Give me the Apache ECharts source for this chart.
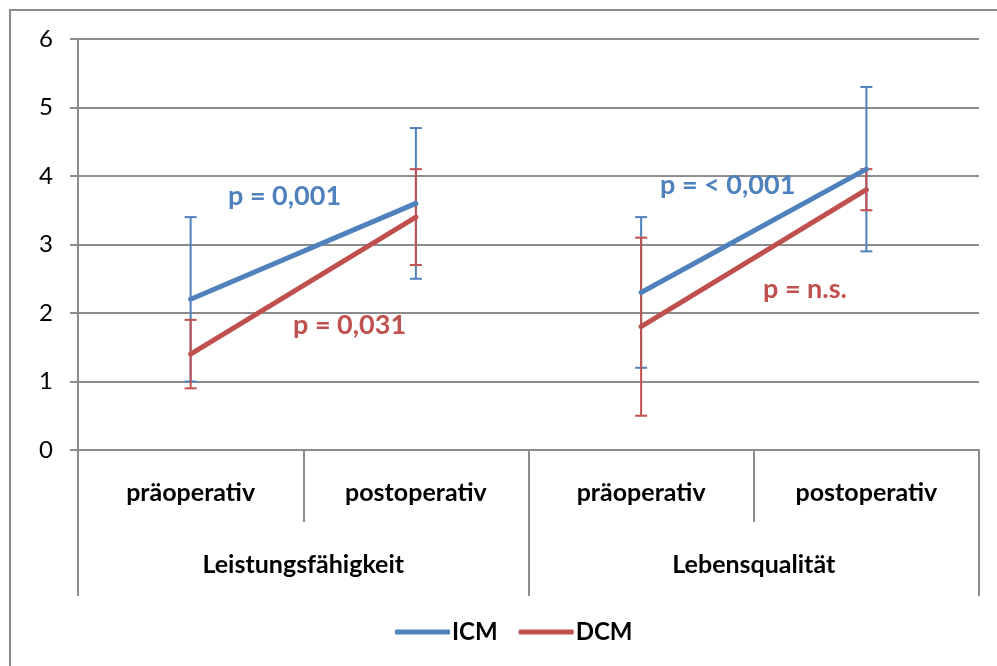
<!DOCTYPE html>
<html>
<head>
<meta charset="utf-8">
<script src="https://cdn.jsdelivr.net/npm/echarts@6/dist/echarts.min.js"></script>
<style>
  html, body { margin: 0; padding: 0; background: #fff; }
  #chart { width: 997px; height: 666px; }
</style>
</head>
<body>
<div id="chart"></div>
<script>
// Phase labels (inner row) and domain labels (outer row)
const phases = ['präoperativ', 'postoperativ', 'präoperativ', 'postoperativ'];
const domains = ['Leistungsfähigkeit', 'Lebensqualität'];

// Mean scores per phase
const icmMean = [2.2, 3.6, 2.3, 4.1];
const dcmMean = [1.4, 3.4, 1.8, 3.8];

// Standard deviations (error bars, symmetric)
const icmSd = [1.2, 1.1, 1.1, 1.2];
const dcmSd = [0.5, 0.7, 1.3, 0.3];

// Significance notes
const pNotes = [
  { text: 'p = 0,001', series: 'ICM', x: 228, y: 199 },
  { text: 'p = 0,031', series: 'DCM', x: 293, y: 328 },
  { text: 'p = < 0,001', series: 'ICM', x: 660, y: 188 },
  { text: 'p = n.s.', series: 'DCM', x: 763, y: 292 }
];

const yTicks = [0, 1, 2, 3, 4, 5, 6];

const BLUE = '#4F81BD';
const RED = '#C0504D';
const GRID = '#8c8c8c';
const FONT = 'Lato, "Open Sans", sans-serif';

// Each domain is its own line segment, so split the means per domain
function segment(values, domainIdx) {
  return values.map((v, i) => (Math.floor(i / 2) === domainIdx ? v : '-'));
}

function errorData(mean, sd) {
  return mean.map((m, i) => [i, m - sd[i], m + sd[i]]);
}

function errorSeries(name, color, mean, sd) {
  return {
    type: 'custom',
    name: name + ' SD',
    xAxisIndex: 0,
    yAxisIndex: 0,
    silent: true,
    itemStyle: { color: color },
    data: errorData(mean, sd),
    renderItem: function (params, api) {
      const x = api.value(0);
      const lo = api.coord([x, api.value(1)]);
      const hi = api.coord([x, api.value(2)]);
      const half = 6;
      const style = { stroke: color, lineWidth: 2 };
      return {
        type: 'group',
        children: [
          { type: 'line', shape: { x1: lo[0], y1: lo[1], x2: hi[0], y2: hi[1] }, style: style },
          { type: 'line', shape: { x1: lo[0] - half, y1: lo[1], x2: lo[0] + half, y2: lo[1] }, style: style },
          { type: 'line', shape: { x1: hi[0] - half, y1: hi[1], x2: hi[0] + half, y2: hi[1] }, style: style }
        ]
      };
    },
    z: 2
  };
}

function lineSeries(name, color, data) {
  return {
    type: 'line',
    name: name,
    data: data,
    symbol: 'none',
    connectNulls: false,
    lineStyle: { color: color, width: 5, cap: 'round' },
    itemStyle: { color: color },
    z: 3
  };
}

const chart = echarts.init(document.getElementById('chart'));

chart.setOption({
  animation: false,
  textStyle: { fontFamily: FONT },
  grid: { left: 78, right: 18, top: 39, bottom: 216, containLabel: false },
  legend: {
    data: ['ICM', 'DCM'],
    bottom: 17,
    left: 390,
    itemWidth: 55,
    itemHeight: 5,
    itemGap: 21,
    icon: 'roundRect',
    textStyle: { fontFamily: FONT, fontSize: 24, fontWeight: 'bold', color: '#000', padding: [0, 0, 0, -3] },
    selectedMode: false
  },
  xAxis: [
    {
      type: 'category',
      data: phases,
      boundaryGap: true,
      position: 'bottom',
      axisLine: { show: true, lineStyle: { color: GRID, width: 2 } },
      axisTick: { show: true, alignWithLabel: false, length: 72, lineStyle: { color: GRID, width: 2 } },
      axisLabel: { margin: 30, fontSize: 25, fontWeight: 'bold', color: '#000', fontFamily: FONT },
      splitLine: { show: false }
    },
    {
      type: 'category',
      data: domains,
      boundaryGap: true,
      position: 'bottom',
      axisLine: { show: false },
      axisTick: { show: true, length: 146, lineStyle: { color: GRID, width: 2 } },
      axisLabel: { margin: 102, fontSize: 25, fontWeight: 'bold', color: '#000', fontFamily: FONT },
      splitLine: { show: false }
    }
  ],
  yAxis: {
    type: 'value',
    min: yTicks[0],
    max: yTicks[yTicks.length - 1],
    interval: 1,
    axisLine: { show: true, lineStyle: { color: GRID, width: 2 } },
    axisTick: { show: true, inside: false, length: 8, lineStyle: { color: GRID, width: 2 } },
    axisLabel: { margin: 25, fontSize: 24, color: '#000', fontFamily: FONT },
    splitLine: { show: true, lineStyle: { color: GRID, width: 2 } }
  },
  graphic: [
    {
      type: 'rect',
      shape: { x: 10, y: 10, width: 1010, height: 700 },
      style: { fill: 'none', stroke: '#8a8a8a', lineWidth: 2 },
      silent: true,
      z: -10
    }
  ].concat(pNotes.map(n => ({
    type: 'text',
    left: n.x,
    top: n.y - 16,
    style: {
      text: n.text,
      fill: n.series === 'ICM' ? BLUE : RED,
      font: 'bold 27px ' + FONT
    },
    z: 100
  }))),
  series: [
    errorSeries('ICM', BLUE, icmMean, icmSd),
    errorSeries('DCM', RED, dcmMean, dcmSd),
    lineSeries('ICM', BLUE, segment(icmMean, 0)),
    lineSeries('ICM', BLUE, segment(icmMean, 1)),
    lineSeries('DCM', RED, segment(dcmMean, 0)),
    lineSeries('DCM', RED, segment(dcmMean, 1))
  ]
});
</script>
</body>
</html>
